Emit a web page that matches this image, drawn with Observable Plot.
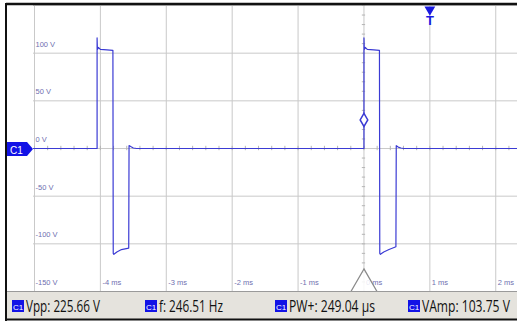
<!DOCTYPE html>
<html>
<head>
<meta charset="utf-8">
<script src="https://cdn.jsdelivr.net/npm/d3@7"></script>
<script src="https://cdn.jsdelivr.net/npm/@observablehq/plot@0.6"></script>
<style>
  html, body { margin: 0; padding: 0; background: #fff; }
  svg { display: block; }
</style>
</head>
<body>
<div id="chart"></div>
<script>
// ---- data ----
const timeMs = [-5.015, -4.05, -4.05, -4.045, -4.03, -4.0, -3.9, -3.81, -3.805, -3.795, -3.75, -3.68, -3.57, -3.565, -3.54, -3.50, -3.45,
                 0.0, 0.0, 0.005, 0.02, 0.05, 0.15, 0.235, 0.24, 0.25, 0.30, 0.38, 0.485, 0.49, 0.52, 0.56, 0.60, 2.33];
const volts  = [0, 0, 116, 104, 106, 104, 103.5, 103, -110, -111, -108.5, -106, -104.5, 3, 2, 0.5, 0,
                 0, 116, 104, 106, 104, 103.5, 103, -110, -111, -108.5, -106, -103, 3, 1.5, 0.5, 0, 0];
const timeTicks = [-5, -4, -3, -2, -1, 0, 1, 2];
const timeLabels = ["-4 ms", "-3 ms", "-2 ms", "-1 ms", "0 ms", "1 ms", "2 ms"];
const timeLabelPos = [-4, -3, -2, -1, 0, 1, 2];
const voltTicks = [-150, -100, -50, 0, 50, 100, 150];
const voltLabels = ["100 V", "50 V", "0 V", "-50 V", "-100 V", "-150 V"];
const voltLabelPos = [100, 50, 0, -50, -100, -150];
const triggerLevel = [{t: 0, v: 30}];
const triggerTime = [{t: 1.0}];
const channel = "C1";
const measNames = ["Vpp", "f", "PW+", "VAmp"];
const measValues = ["225.66 V", "246.51 Hz", "249.04 µs", "103.75 V"];

const minorT = d3.range(-5, 2.4, 0.2).map(d => +d.toFixed(2));
const minorV = d3.range(-150, 151, 10);

const wave = timeMs.map((t, i) => ({t, v: volts[i]}));
const blue = "#3b3bd4";
const labelColor = "#6f6fb0";

const chart = Plot.plot({
  width: 517,
  height: 322,
  marginLeft: 33,
  marginRight: 0,
  marginTop: 5,
  marginBottom: 31,
  style: {background: "#fff", fontFamily: "Liberation Sans, Arial, sans-serif"},
  x: {domain: [-5.015, 2.33], axis: null},
  y: {domain: [-150, 150], axis: null},
  marks: [
    Plot.ruleX(timeTicks, {stroke: "#c9c9c9", strokeWidth: 1}),
    Plot.ruleY(voltTicks, {stroke: "#c9c9c9", strokeWidth: 1}),
    Plot.ruleX(minorT, {y1: -2.3, y2: 2.3, stroke: "#b5b5b5", strokeWidth: 1}),
    Plot.ruleY(minorV, {x1: -0.025, x2: 0.025, stroke: "#b5b5b5", strokeWidth: 1}),
    Plot.text(voltLabels, {x: -5.015, y: (d, i) => voltLabelPos[i], text: d => d, textAnchor: "start",
      dx: 2, dy: -9, fontSize: 7.5, fill: labelColor}),
    Plot.text(timeLabels, {x: (d, i) => timeLabelPos[i], y: -150, text: d => d, textAnchor: "start",
      dx: 2, dy: -9, fontSize: 7.5, fill: labelColor}),
    Plot.line(wave, {x: "t", y: "v", stroke: blue, strokeWidth: 1.2, curve: "linear"}),
    Plot.dot(triggerLevel, {x: "t", y: "v", symbol: "diamond", r: 4, stroke: blue, fill: "#fff", strokeWidth: 1.5}),
    Plot.dot(triggerLevel, {x: "t", y: -150, symbol: "triangle", r: 10, stroke: "#8a8a8a", fill: "#fff", fillOpacity: 0.85, strokeWidth: 1.3, dy: -7}),
    Plot.dot(triggerTime, {x: "t", frameAnchor: "top", symbol: "triangle", r: 4, fill: "#1a1ae0", rotate: 180, dy: 4}),
    Plot.text(triggerTime, {x: "t", frameAnchor: "top", text: () => "T", fill: "#1a1ae0", fontSize: 13, fontWeight: "bold", dy: 10})
  ]
});

document.getElementById("chart").appendChild(chart);

const svg = d3.select(chart);
// bottom measurement bar
svg.append("rect").attr("x", 6).attr("y", 292).attr("width", 511).attr("height", 27).attr("fill", "#e5e3dd");
svg.append("line").attr("x1", 6).attr("x2", 517).attr("y1", 291.5).attr("y2", 291.5).attr("stroke", "#9a9a9a");
const boxX = [12, 145, 275, 408];
const textW = [74, 64, 86, 88];
measNames.forEach((n, i) => {
  svg.append("rect").attr("x", boxX[i]).attr("y", 300).attr("width", 12).attr("height", 12).attr("fill", "#1212e6");
  svg.append("text").attr("x", boxX[i] + 6).attr("y", 309.5).attr("text-anchor", "middle").attr("fill", "#fff")
    .attr("font-size", 8).attr("font-family", "Liberation Sans, Arial, sans-serif").text(channel);
  const t = svg.append("text").attr("x", 0).attr("y", 0).attr("text-anchor", "start").attr("fill", "#111")
    .attr("font-size", 16).attr("font-family", "Open Sans, sans-serif")
    .text(`${n}: ${measValues[i]}`);
  const natural = t.node().getComputedTextLength() || textW[i];
  t.attr("transform", `translate(${boxX[i] + 14},312) scale(${textW[i] / natural},1)`);
});
// channel marker on the left
svg.append("path").attr("d", "M6,142 L27,142 L33,149 L27,156 L6,156 Z").attr("fill", "#1212e6");
svg.append("text").attr("x", 10).attr("y", 153.5).attr("text-anchor", "start").attr("fill", "#fff").attr("font-size", 10)
  .attr("font-family", "Liberation Sans, Arial, sans-serif").text(channel);
// outer frame
svg.append("line").attr("x1", 6).attr("x2", 517).attr("y1", 4).attr("y2", 4).attr("stroke", "#111").attr("stroke-width", 2.5);
svg.append("line").attr("x1", 6).attr("x2", 6).attr("y1", 3).attr("y2", 321).attr("stroke", "#111").attr("stroke-width", 2);
svg.append("line").attr("x1", 6).attr("x2", 517).attr("y1", 319.5).attr("y2", 319.5).attr("stroke", "#111").attr("stroke-width", 2);
</script>
</body>
</html>
